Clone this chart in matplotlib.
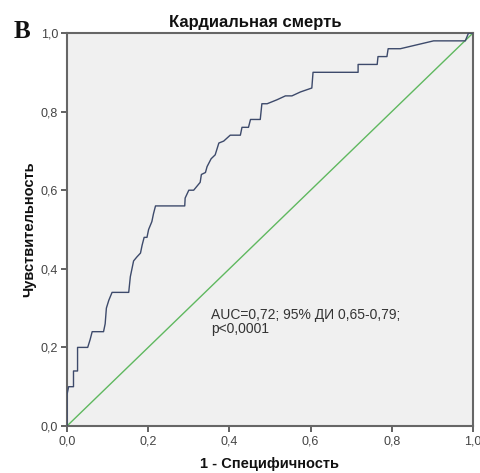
import matplotlib
matplotlib.use("Agg")
import matplotlib.pyplot as plt

# ROC curve points (1 - specificity, sensitivity)
fpr = [0.0, 0.0, 0.004, 0.016, 0.016, 0.026, 0.026, 0.051, 0.057, 0.062, 0.090, 0.094,
       0.097, 0.103, 0.111, 0.152, 0.156, 0.160, 0.164, 0.172, 0.181, 0.185, 0.190,
       0.197, 0.201, 0.209, 0.213, 0.218, 0.290, 0.291, 0.300, 0.312, 0.328, 0.331,
       0.341, 0.345, 0.355, 0.365, 0.374, 0.386, 0.402, 0.427, 0.431, 0.447, 0.452,
       0.476, 0.480, 0.493, 0.517, 0.538, 0.554, 0.575, 0.603, 0.606, 0.717, 0.717,
       0.764, 0.766, 0.788, 0.791, 0.821, 0.862, 0.903, 0.981, 0.989, 1.0]
tpr = [0.0, 0.08, 0.10, 0.10, 0.14, 0.14, 0.20, 0.20, 0.22, 0.24, 0.24, 0.26,
       0.30, 0.32, 0.34, 0.34, 0.38, 0.40, 0.42, 0.43, 0.44, 0.46, 0.48,
       0.48, 0.50, 0.52, 0.54, 0.56, 0.56, 0.58, 0.60, 0.60, 0.62, 0.64,
       0.645, 0.66, 0.68, 0.69, 0.72, 0.725, 0.74, 0.74, 0.76, 0.76, 0.78,
       0.78, 0.82, 0.82, 0.83, 0.84, 0.84, 0.85, 0.86, 0.90, 0.90, 0.92,
       0.92, 0.94, 0.94, 0.96, 0.96, 0.97, 0.98, 0.98, 1.0, 1.0]
ref_x = [0.0, 1.0]
ref_y = [0.0, 1.0]
ticks = [0.0, 0.2, 0.4, 0.6, 0.8, 1.0]
tick_labels = ["0,0", "0,2", "0,4", "0,6", "0,8", "1,0"]

title = "Кардиальная смерть"
xlabel = "1 - Специфичность"
ylabel = "Чувствительность"
annot = "AUC=0,72; 95% ДИ 0,65-0,79;\np<0,0001"
panel = "B"

plt.rcParams['font.family'] = ['Liberation Sans', 'DejaVu Sans']

fig = plt.figure(figsize=(4.81, 4.73), dpi=100)
fig.patch.set_facecolor("white")
ax = fig.add_axes([67/481, 1-426/473, (473-67)/481, (426-33)/473])
ax.set_facecolor("#f0f0f0")

ax.plot(ref_x, ref_y, color="#5fb85f", lw=1.0, zorder=2)
ax.plot(fpr, tpr, color="#3d4a6b", lw=1.0, zorder=3)

ax.set_xlim(0, 1)
ax.set_ylim(0, 1)
ax.set_xticks(ticks)
ax.set_xticklabels(tick_labels)
ax.set_yticks(ticks)
ax.set_yticklabels(tick_labels)
ax.tick_params(direction="out", length=4.5, width=1.3, colors="#555555",
               labelcolor="#444444", labelsize=9, pad=2)
for s in ax.spines.values():
    s.set_color("#666666")
    s.set_linewidth(1.5)

fig.text(255/481, 1-22/473, title, fontsize=12, fontweight="bold",
         ha="center", va="center", color="#111111")
ax.set_xlabel(xlabel, fontsize=10.5, fontweight="bold", labelpad=7, color="#111111")
ax.set_ylabel(ylabel, fontsize=10.5, fontweight="bold", labelpad=3, color="#111111")

ax.text(0.355, 0.30, annot, fontsize=10, color="#333333", va="top", ha="left",
        linespacing=0.95)

fig.text(22/481, 1-32/473, panel, fontsize=18, fontweight="bold",
         family="Liberation Serif", ha="center", va="center", color="#111111")

fig.savefig("out.png", dpi=100, facecolor="white")
